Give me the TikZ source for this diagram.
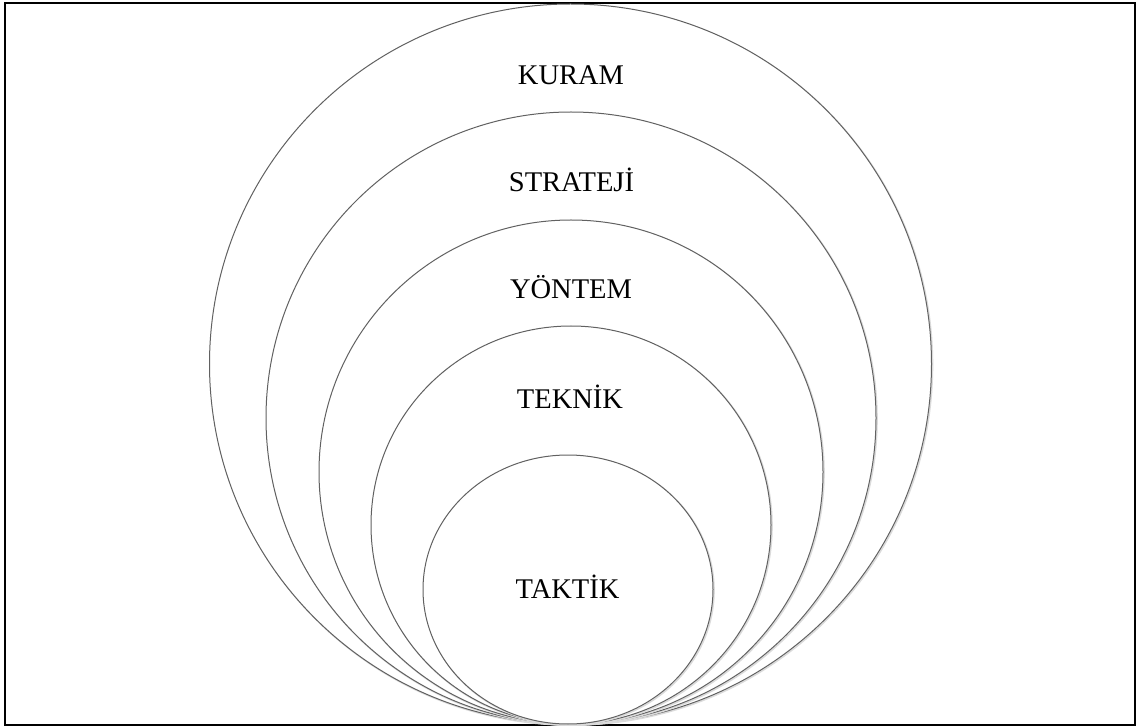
\documentclass[tikz,border=0pt]{standalone}
\usepackage{fontspec}
\setmainfont{Liberation Serif}
\begin{document}
\begin{tikzpicture}[x=1pt,y=-1pt,
  ring/.style={draw=black!62,line width=1pt,fill=white},
  halo/.style={draw=black!14,line width=1.6pt},
  lbl/.style={anchor=base,inner sep=0pt,font=\fontsize{28.5}{30}\selectfont}]
\useasboundingbox (0,0) rectangle (1136,727);
% outer frame
\draw[line width=1.6pt] (5,3) rectangle (1135,725);
% nested rings, all touching the bottom edge (each with a faint soft edge)
\foreach \cx/\cy/\rx/\ry in {570.5/364/361/360, 571/418/305/306, 571/472/252/252,
                              571/525/200/199, 568/589.5/145/134.5}{
  \draw[halo] (\cx+1,\cy+1) ellipse [x radius=\rx,y radius=\ry];
  \draw[ring] (\cx,\cy) ellipse [x radius=\rx,y radius=\ry];
}
% labels
\node[lbl] (kuram)    at (571,85)  {KURAM};
\node[lbl] (strateji) at (571.5,192) {STRATEJİ};
\node[lbl] (yontem)   at (571,299) {YÖNTEM};
\node[lbl] (teknik)   at (570,409) {TEKNİK};
\node[lbl] (taktik)   at (567.5,598) {TAKTİK};
\end{tikzpicture}
\end{document}
